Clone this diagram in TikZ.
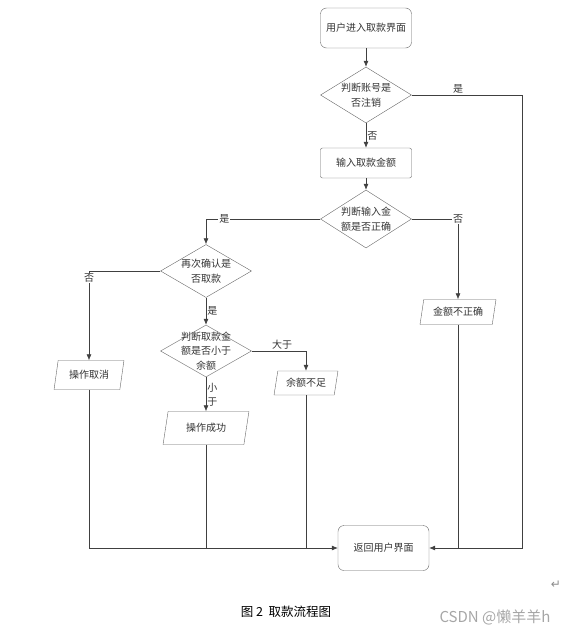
\documentclass[tikz,border=0pt]{standalone}
\usepackage{fontspec}
\setmainfont{Noto Sans CJK SC}
\newfontfamily\symfont{DejaVu Sans}
\usepackage{xcolor}
\usetikzlibrary{shapes.geometric, arrows.meta, positioning, calc}

\begin{document}
\begin{tikzpicture}[x=1pt, y=-1pt, font=\fontsize{10}{15}\selectfont, >={Latex[length=6pt,width=5pt]},
  link/.style={draw=black!75, line width=0.6pt},
  flowterm/.style={draw=black!60, rounded corners=6pt, minimum width=91pt, align=center, text=black!80},
  flowproc/.style={draw=black!60, rounded corners=2pt, minimum width=91pt, minimum height=30pt, text=black!80},
  flowdec/.style={draw=black!60, diamond, aspect=1.6, inner sep=-2pt, minimum width=91pt, minimum height=56pt, align=center, text=black!80},
  flowio/.style={draw=black!60, trapezium, trapezium left angle=79, trapezium right angle=101, trapezium stretches=true, minimum height=25pt, text=black!80},
  tag/.style={draw=none, text=black!80, inner sep=1pt}]
\useasboundingbox (0,0) rectangle (568,634);
\node[flowterm, minimum height=40pt] (start) at (366,28) {用户进入取款界面};
\node[flowdec] (chk) at (366,95) {判断账号是\\否注销};
\node[flowproc] (amtin) at (366,163) {输入取款金额};
\node[flowdec, minimum height=58pt] (valid) at (366,219) {判断输入金\\额是否正确};
\node[flowdec, minimum height=53pt] (confirm) at (206,271) {再次确认是\\否取款};
\node[flowdec, minimum height=52pt, inner sep=-10pt, font=\fontsize{10}{14.5}\selectfont] (cmp) at (206,351) {判断取款金\\额是否小于\\余额};
\node[flowio, minimum width=70pt, minimum height=29pt] (cancel) at (89,375) {操作取消};
\node[flowio, minimum width=64pt, minimum height=24pt] (short) at (306,383) {余额不足};
\node[flowio, minimum width=86pt, minimum height=33pt] (success) at (206,428) {操作成功};
\node[flowio, minimum width=76pt, minimum height=25pt] (wrong) at (458,312) {金额不正确};
\node[flowterm, minimum height=45pt] (ret) at (383.5,548) {返回用户界面};
\coordinate (rr) at (522,548);
% main column
\draw[link, ->] (start) -- (chk);
\draw[link, ->] (chk) -- node[tag, right] (no1) {否} (amtin);
\draw[link, ->] (amtin) -- (valid);
\draw[link, ->] (chk.east) -| node[tag, above, pos=0.21] (yes1) {是} (rr) -- (ret.east);
\draw[link, ->] (valid.east) -| node[tag, fill=white, pos=0.5] (no2) {否} (wrong);
\draw[link, ->] (valid.west) -| node[tag, fill=white, pos=0.42] (yes2) {是} (confirm);
\draw[link, ->] (confirm.west) -| node[tag, fill=white, pos=0.54] (no3) {否} (cancel);
\draw[link, ->] (confirm) -- node[tag, right] (yes3) {是} (cmp);
\draw[link, ->] (cmp.east) -| node[tag, above, pos=0.28] (gt) {大于} (short);
\draw[link, ->] (cmp) -- node[tag, right, align=center, font=\fontsize{10}{14}\selectfont] (lt) {小\\于} (success);
% back to the user screen
\draw[link, ->] (cancel) |- (ret.west);
\draw[link] (success) -- (success |- ret.west);
\draw[link] (short) -- (short |- ret.west);
\draw[link] (wrong) -- (wrong |- ret.east);
\node[tag, text=black!45, font=\symfont\fontsize{12}{12}\selectfont] (para) at (556,585) {↵};
\node[tag, text=black, font=\fontsize{12.5}{14}\selectfont] (cap) at (286,612) {图 2\ \ 取款流程图};
\node[tag, text=black!35, font=\fontsize{15}{16}\selectfont] (mark) at (495,617) {CSDN @懒羊羊h};
\end{tikzpicture}
\end{document}
